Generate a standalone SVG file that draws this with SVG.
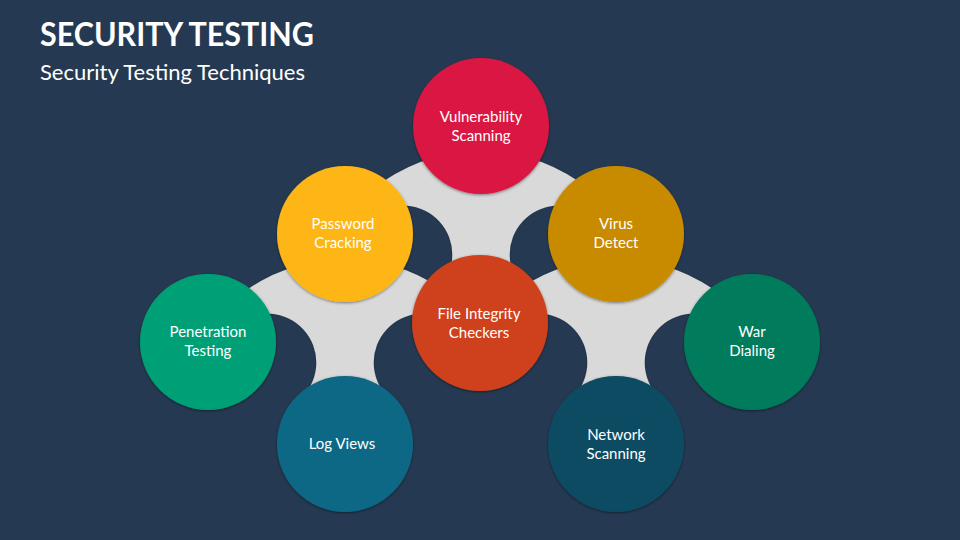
<svg xmlns="http://www.w3.org/2000/svg" width="960" height="540" viewBox="0 0 960 540">
  <defs>
    <filter id="sh" x="-20%" y="-20%" width="140%" height="140%">
      <feDropShadow dx="0" dy="1" stdDeviation="1.6" flood-color="#000" flood-opacity="0.45"/>
    </filter>
    <filter id="shg" x="-10%" y="-10%" width="120%" height="120%">
      <feDropShadow dx="0" dy="0" stdDeviation="1.2" flood-color="#000" flood-opacity="0.35"/>
    </filter>
  </defs>
  <style>
    .title { font-family: Lato, "Open Sans", "Liberation Sans", sans-serif; font-weight: 700; fill: #ffffff; }
    .sub { font-family: Lato, "Open Sans", "Liberation Sans", sans-serif; font-weight: 400; fill: #ffffff; }
    .lbl { font-family: Lato, "Open Sans", "Liberation Sans", sans-serif; font-size: 15px; fill: #ffffff; text-anchor: middle; }
    .web { fill: #D9D9D9; filter: url(#shg); }
    .node circle { filter: url(#sh); }
  </style>
  <rect x="0" y="0" width="960" height="540" fill="#253A52"/>
  <text class="title" x="40" y="46" font-size="33" textLength="274" lengthAdjust="spacingAndGlyphs">SECURITY TESTING</text>
  <text class="sub" x="40" y="80" font-size="21" textLength="265" lengthAdjust="spacingAndGlyphs">Security Testing Techniques</text>

  <g id="connectors">
    <path class="web" d="M382.3,182.1 A172,172 0 0 1 436.5,156.9 L525.5,156.9 A172,172 0 0 1 579.7,182.1 L589.5,216.5 A49,49 0 0 0 523.4,288.6 L438.6,288.6 A49,49 0 0 0 372.5,216.5 Z"/>
    <path class="web" d="M246.3,290.1 A172,172 0 0 1 300.5,264.9 L389.5,264.9 A172,172 0 0 1 443.7,290.1 L453.5,324.5 A49,49 0 0 0 387.4,396.6 L302.6,396.6 A49,49 0 0 0 236.5,324.5 Z"/>
    <path class="web" d="M517.3,290.1 A172,172 0 0 1 571.5,264.9 L660.5,264.9 A172,172 0 0 1 714.7,290.1 L724.5,324.5 A49,49 0 0 0 658.4,396.6 L573.6,396.6 A49,49 0 0 0 507.5,324.5 Z"/>
  </g>

  <g id="vulnerability-scanning" class="node">
    <circle cx="481" cy="126" r="68" fill="#DA1443"/>
    <text class="lbl" x="481" y="122">Vulnerability</text>
    <text class="lbl" x="481" y="141">Scanning</text>
  </g>
  <g id="password-cracking" class="node">
    <circle cx="345" cy="234" r="68" fill="#FDB614"/>
    <text class="lbl" x="343" y="229">Password</text>
    <text class="lbl" x="343" y="248">Cracking</text>
  </g>
  <g id="virus-detect" class="node">
    <circle cx="616" cy="234" r="68" fill="#C88B01"/>
    <text class="lbl" x="616" y="229">Virus</text>
    <text class="lbl" x="616" y="248">Detect</text>
  </g>
  <g id="file-integrity-checkers" class="node">
    <circle cx="480" cy="323" r="68" fill="#CF411D"/>
    <text class="lbl" x="479" y="319">File Integrity</text>
    <text class="lbl" x="479" y="338">Checkers</text>
  </g>
  <g id="penetration-testing" class="node">
    <circle cx="208" cy="342" r="68" fill="#05A077"/>
    <text class="lbl" x="208" y="337">Penetration</text>
    <text class="lbl" x="208" y="356">Testing</text>
  </g>
  <g id="war-dialing" class="node">
    <circle cx="752" cy="342" r="68" fill="#057B5B"/>
    <text class="lbl" x="752" y="337">War</text>
    <text class="lbl" x="752" y="356">Dialing</text>
  </g>
  <g id="log-views" class="node">
    <circle cx="345" cy="444" r="68" fill="#0E6786"/>
    <text class="lbl" x="342" y="449">Log Views</text>
  </g>
  <g id="network-scanning" class="node">
    <circle cx="616" cy="444" r="68" fill="#0B4B62"/>
    <text class="lbl" x="616" y="440">Network</text>
    <text class="lbl" x="616" y="459">Scanning</text>
  </g>
</svg>
